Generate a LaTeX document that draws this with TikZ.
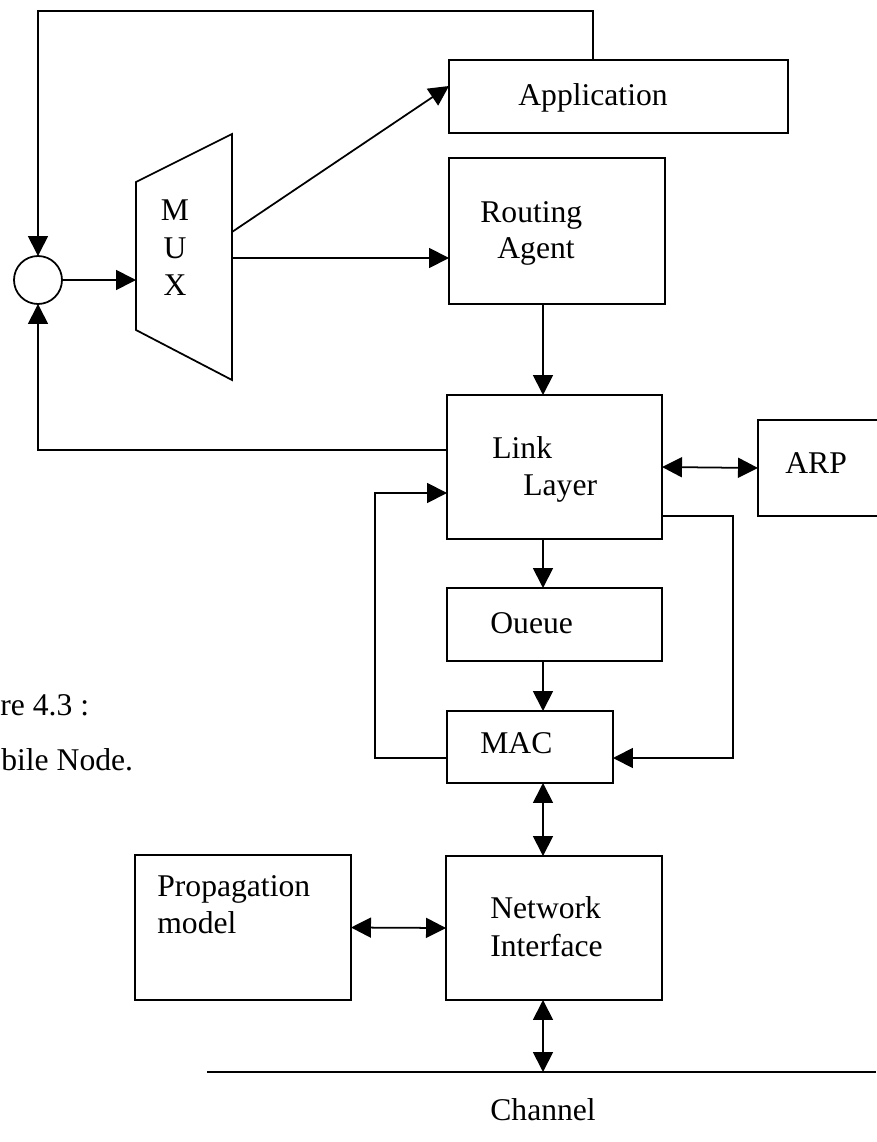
\documentclass[tikz,border=0pt]{standalone}
\usepackage{fontspec}
\setmainfont{Liberation Serif}
\usetikzlibrary{arrows.meta,calc}
\tikzstyle{block}=[draw, line width=1pt, inner sep=0pt, outer sep=0pt]
\tikzstyle{sumV}=[circle, draw, line width=1pt, minimum size=0.96cm, inner sep=0pt, outer sep=0pt]
\tikzstyle{flow}=[line width=1pt, >={Triangle[length=0.4cm,width=0.4cm]}]
\tikzstyle{txt}=[inner sep=0pt, anchor=base west]
\tikzstyle{txtC}=[inner sep=0pt, anchor=base]

\begin{document}
\begin{tikzpicture}[x=0.02cm, y=-0.02cm, font=\fontsize{18}{21.5}\selectfont]
      \useasboundingbox (0,0) rectangle (876,1142);
      % blocks
      \node(app) [block, minimum width=6.78cm, minimum height=1.46cm] at (618.5,96.5){};
      \node(route) [block, minimum width=4.32cm, minimum height=2.92cm] at (557,231){};
      \node(link) [block, minimum width=4.30cm, minimum height=2.88cm] at (554.5,467){};
      \node(arp) [block, minimum width=2.44cm, minimum height=1.92cm] at (819,468){};
      \node(queue) [block, minimum width=4.30cm, minimum height=1.46cm] at (554.5,624.5){};
      \node(mac) [block, minimum width=3.32cm, minimum height=1.44cm] at (530,747){};
      \node(netif) [block, minimum width=4.32cm, minimum height=2.88cm] at (554,928){};
      \node(prop) [block, minimum width=4.32cm, minimum height=2.90cm] at (243,927.5){};
      \node(sum) [sumV] at (38,280){};
      % mux
      \draw[block] (136,182) -- (232,134) -- (232,380) -- (136,330) -- cycle;
      \coordinate (muxin) at (136,280);
      \coordinate (muxapp) at (232,232);
      \coordinate (muxrt) at (232,258);
      \coordinate (axis) at (543,0);
      \coordinate (chanL) at (207,1072);
      \coordinate (chanR) at (876,1072);
      \coordinate (lnkin) at ([yshift=-0.52cm]link.west);
      \coordinate (macin) at ([yshift=-0.22cm]mac.east);
      % labels
      \node(appT) [txt] at (518,106){Application};
      \node(routeT) [txt] at (480,222){Routing};
      \node(agentT) [txt] at (497,258){Agent};
      \node(linkT) [txt] at (492,458){Link};
      \node(layerT) [txt] at (523,495){Layer};
      \node(arpT) [txt] at (785,473){ARP};
      \node(queueT) [txt] at (490,633){Oueue};
      \node(macT) [txt] at (480,753){MAC};
      \node(netT) [txt] at (490,918){Network};
      \node(ifT) [txt] at (490,956){Interface};
      \node(propT) [txt] at (157,896){Propagation};
      \node(modelT) [txt] at (157,933){model};
      \node(chanT) [txt] at (490,1120){Channel};
      \node(muxM) [txtC] at (175,220){M};
      \node(muxU) [txtC] at (175,258){U};
      \node(muxX) [txtC] at (175,295){X};
      \node(capA) [txt] at (0,715){re 4.3 :};
      \node(capB) [txt] at (1,770){bile Node.};
      % connectors
      \draw[flow,->] ([xshift=-0.51cm]app.north) |- (sum |- 0,11) -- (sum);
      \draw[flow,->] ([yshift=0.34cm]link.west) -| (sum);
      \draw[flow,->] (sum) -- (muxin);
      \draw[flow,->] (muxapp) -- ([yshift=0.21cm]app.west);
      \draw[flow,->] (muxrt) -- (muxrt -| route.west);
      \draw[flow,->] (axis |- route.south) -- (axis |- link.north);
      \draw[flow,<->] (link.east) -- (arp.west);
      \draw[flow,->] (axis |- link.south) -- (axis |- queue.north);
      \draw[flow,->] (axis |- queue.south) -- (axis |- mac.north);
      \draw[flow,<->] (axis |- mac.south) -- (axis |- netif.north);
      \draw[flow,<->] (axis |- netif.south) -- (axis |- chanL);
      \draw[flow,<->] (prop.east) -- (netif.west);
      \draw[flow,->] ([yshift=-0.22cm]mac.west) -| (lnkin -| 375,0) -- (lnkin);
      \draw[flow,->] ([yshift=-0.98cm]link.east) -| (macin -| 733,0) -- (macin);
      \draw[flow] (chanL) -- (chanR);
    \end{tikzpicture}
\end{document}
